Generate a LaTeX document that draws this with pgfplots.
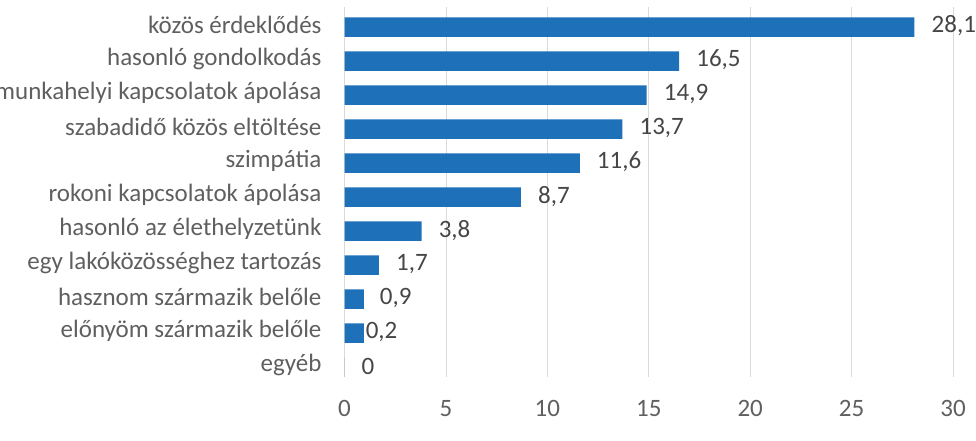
\documentclass[border=0pt]{standalone}
\usepackage{pgfplots}
\pgfplotsset{compat=1.18}
\usepackage{fontspec}
\setmainfont{Carlito}
\definecolor{barblue}{RGB}{30,112,185}
\definecolor{txtgray}{RGB}{95,95,95}
\definecolor{valgray}{RGB}{70,70,70}
\definecolor{gridgray}{RGB}{217,217,217}
\begin{document}
\begin{tikzpicture}
\path[use as bounding box] (0,0) rectangle (976bp,441bp);
\clip (0,0) rectangle (976bp,441bp);
\begin{axis}[
  at={(344.5bp,64bp)}, anchor=south west,
  scale only axis, width=608.5bp, height=370bp,
  xmin=0, xmax=30, ymin=-0.29, ymax=10.59,
  xtick={0,5,...,30}, ytick={0,...,10},
  yticklabels={egyéb, előnyöm származik belőle, hasznom származik belőle, egy lakóközösséghez tartozás, hasonló az élethelyzetünk, rokoni kapcsolatok ápolása, szimpátia, szabadidő közös eltöltése, munkahelyi kapcsolatok ápolása, hasonló gondolkodás, közös érdeklődés},
  axis line style={draw=none},
  major tick length=0pt,
  xmajorgrids, grid style={gridgray, line width=0.8bp},
  tick label style={font=\fontsize{25bp}{30bp}\selectfont, text=txtgray},
  yticklabel style={xshift=-19.5bp, yshift=2bp},
  xticklabel style={yshift=-20bp},
  /pgf/number format/assume math mode=true,
  /pgf/number format/use comma,
  /pgf/number format/fixed,
  /pgf/number format/precision=1,
  clip=false,
]
\addplot[xbar, bar width=0.57, fill=barblue, draw=none] coordinates {
  (28.1,10) (16.5,9) (14.9,8) (13.7,7) (11.6,6) (8.7,5) (3.8,4) (1.7,3) (0.95,2) (0.95,1) (0,0)};
\addplot[draw=none, mark=none, nodes near coords, point meta=x,
  every node near coord/.style={anchor=west, inner sep=0pt, xshift=17bp, yshift=1bp,
    font=\fontsize{25bp}{30bp}\selectfont, text=valgray}] coordinates {
  (28.1,10) (16.5,9) (14.9,8) (13.7,7) (11.6,6) (8.7,5) (3.8,4) (1.7,3) (0.9,2) (0.2,1) (0,0)};
\end{axis}
\end{tikzpicture}
\end{document}
